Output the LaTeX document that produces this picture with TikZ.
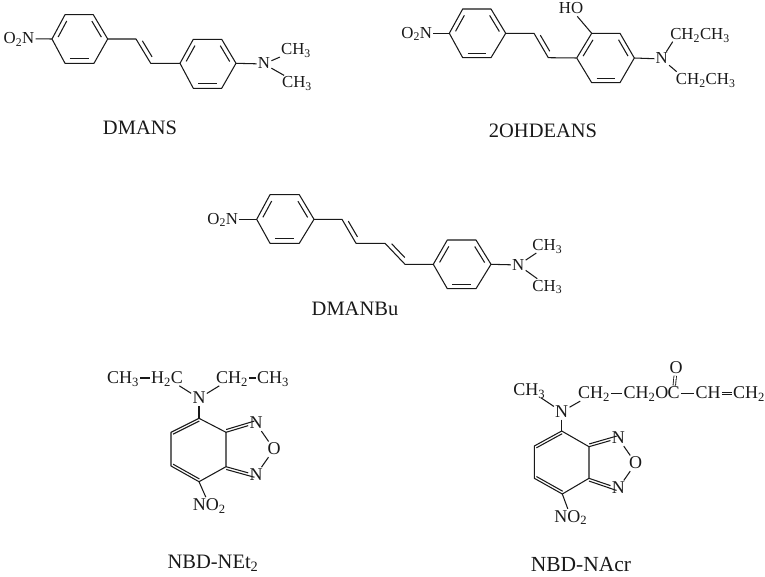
\documentclass[tikz,border=0pt]{standalone}
\usepackage{fontspec}
\setmainfont{Liberation Serif}
\usepackage{tikz}
\usetikzlibrary{calc}
\newcommand{\innerbond}[2]{\draw[-] ($(#1)!.17!(#2)!4.5pt!90:(#2)$) -- ($(#2)!.17!(#1)!4.5pt!-90:(#1)$);}
\newcommand{\closebond}[2]{\draw[-] ($(#1)!.03!(#2)!2.6pt!90:(#2)$) -- ($(#2)!.03!(#1)!2.6pt!-90:(#1)$);}
\newcommand{\subs}[1]{\textsubscript{#1}}
\begin{document}
\begin{tikzpicture}[x=1pt,y=-1pt,line width=1.05pt,color=black!90,
    atom/.style={inner sep=.8pt, text height=11pt, text depth=1pt, font=\fontsize{16.8}{18}\selectfont},
    natom/.style={inner sep=.8pt, text height=12pt, text depth=1pt, font=\fontsize{18}{20}\selectfont},
    molname/.style={inner sep=0pt, font=\fontsize{20.5}{22}\selectfont},
    dbond/.style={double,double distance=1.6pt,line width=.85pt}]
        \useasboundingbox (0,0) rectangle (765,577);

        \coordinate (A1) at (52,39);
        \coordinate (A2) at (65,14.7);
        \coordinate (A3) at (93.3,14.7);
        \coordinate (A4) at (107.7,39);
        \coordinate (A5) at (94,63.3);
        \coordinate (A6) at (65,63.3);
        \coordinate (V1) at (136,39);
        \coordinate (V2) at (150.7,63.3);
        \coordinate (B1) at (180,63.3);
        \coordinate (B2) at (193.3,39.3);
        \coordinate (B3) at (221.7,39.3);
        \coordinate (B4) at (236,63.3);
        \coordinate (B5) at (221.7,88.3);
        \coordinate (B6) at (193.3,88.3);
        \node[atom] (NO1) at (19,38.7) {O\subs{2}N};
        \node[atom] (N1) at (264,64) {N};
        \node[atom] (Me1) at (296,50) {CH\subs{3}};
        \node[atom] (Me2) at (297,82.7) {CH\subs{3}};
        \node[molname] (L1) at (140,128) {DMANS};

        \draw[-,line join=round] (A1) -- (A2) -- (A3) -- (A4) -- (A5) -- (A6) -- cycle;
        \draw[-,line join=round] (B1) -- (B2) -- (B3) -- (B4) -- (B5) -- (B6) -- cycle;
        \draw[-,line join=round] (A4) -- (V1) -- (V2) -- (B1);
        \innerbond{A2}{A1}
        \innerbond{A4}{A3}
        \innerbond{A6}{A5}
        \innerbond{V1}{V2}
        \innerbond{B2}{B1}
        \innerbond{B4}{B3}
        \innerbond{B6}{B5}
        \draw[-] (NO1) edge[] (A1);
        \draw[-] (N1) edge[] (B4);
        \draw[-] (N1) edge[] (Me1);
        \draw[-] (N1) edge[] (Me2);

        \coordinate (C1) at (449.3,33.3);
        \coordinate (C2) at (462.7,9);
        \coordinate (C3) at (491,9);
        \coordinate (C4) at (505.7,33.3);
        \coordinate (C5) at (491,57.7);
        \coordinate (C6) at (462.7,57.7);
        \coordinate (V3) at (534,33.3);
        \coordinate (V4) at (548.3,57.7);
        \coordinate (D1) at (576.7,58);
        \coordinate (D2) at (591.7,33.3);
        \coordinate (D3) at (620,33.3);
        \coordinate (D4) at (634.3,58);
        \coordinate (D5) at (620,82.7);
        \coordinate (D6) at (591.7,82.7);
        \coordinate (Et1) at (672.7,41.7);
        \coordinate (Et2) at (676.7,71.7);
        \node[atom] (NO2) at (416.7,33.3) {O\subs{2}N};
        \node[atom] (OH) at (571,9) {HO};
        \node[atom] (N2) at (661.7,59) {N};
        \node[atom] (Et3) at (700,35) {CH\subs{2}CH\subs{3}};
        \node[atom] (Et4) at (705.7,80) {CH\subs{2}CH\subs{3}};
        \node[molname] (L2) at (543,131) {2OHDEANS};

        \draw[-,line join=round] (C1) -- (C2) -- (C3) -- (C4) -- (C5) -- (C6) -- cycle;
        \draw[-,line join=round] (D1) -- (D2) -- (D3) -- (D4) -- (D5) -- (D6) -- cycle;
        \draw[-,line join=round] (C4) -- (V3) -- (V4) -- (D1);
        \innerbond{C2}{C1}
        \innerbond{C4}{C3}
        \innerbond{C6}{C5}
        \innerbond{V3}{V4}
        \innerbond{D2}{D1}
        \innerbond{D4}{D3}
        \innerbond{D6}{D5}
        \draw[-] (NO2) edge[] (C1);
        \draw[-] (OH) edge[] (D2);
        \draw[-] (N2) edge[] (D4);
        \draw[-] (N2) edge[] (Et1);
        \draw[-] (N2) edge[] (Et2);

        \coordinate (E1) at (256.7,219.3);
        \coordinate (E2) at (270,194.7);
        \coordinate (E3) at (299.3,194.7);
        \coordinate (E4) at (314,219.3);
        \coordinate (E5) at (299.3,243.3);
        \coordinate (E6) at (270,243.3);
        \coordinate (V5) at (342,219.3);
        \coordinate (V6) at (356,243.3);
        \coordinate (V7) at (385,243.3);
        \coordinate (V8) at (405,264.3);
        \coordinate (F1) at (433.3,264.3);
        \coordinate (F2) at (447.3,240);
        \coordinate (F3) at (476,240);
        \coordinate (F4) at (491,264.3);
        \coordinate (F5) at (476,288.7);
        \coordinate (F6) at (447.3,288.7);
        \node[atom] (NO3) at (222.7,219.3) {O\subs{2}N};
        \node[atom] (N3) at (518.3,265) {N};
        \node[atom] (Me3) at (547.3,245.7) {CH\subs{3}};
        \node[atom] (Me4) at (547.3,286) {CH\subs{3}};
        \node[molname] (L3) at (355,309) {DMANBu};

        \draw[-,line join=round] (E1) -- (E2) -- (E3) -- (E4) -- (E5) -- (E6) -- cycle;
        \draw[-,line join=round] (F1) -- (F2) -- (F3) -- (F4) -- (F5) -- (F6) -- cycle;
        \draw[-,line join=round] (E4) -- (V5) -- (V6) -- (V7) -- (V8) -- (F1);
        \innerbond{E2}{E1}
        \innerbond{E4}{E3}
        \innerbond{E6}{E5}
        \innerbond{V5}{V6}
        \innerbond{V7}{V8}
        \innerbond{F2}{F1}
        \innerbond{F4}{F3}
        \innerbond{F6}{F5}
        \draw[-] (NO3) edge[] (E1);
        \draw[-] (N3) edge[] (F4);
        \draw[-] (N3) edge[] (Me3);
        \draw[-] (N3) edge[] (Me4);

        \coordinate (G1) at (199,418.3);
        \coordinate (G2) at (226,432.3);
        \coordinate (G3) at (226,466.7);
        \coordinate (G4) at (199,481.7);
        \coordinate (G5) at (171,466);
        \coordinate (G6) at (171,432.3);
        \node[natom] (N4) at (199,398.3) {N};
        \node[natom] (Me5) at (123,378) {CH\subs{3}};
        \node[natom] (Et5) at (167,378) {H\subs{2}C};
        \node[natom] (Et6) at (232,378) {CH\subs{2}};
        \node[natom] (Me6) at (273,378) {CH\subs{3}};
        \node[natom] (N5) at (256,423.3) {N};
        \node[natom] (O1) at (274,449.3) {O};
        \node[natom] (N6) at (256,475) {N};
        \node[natom] (NO4) at (209.3,505) {NO\subs{2}};
        \node[molname] (L4) at (213,563) {NBD-NEt\subs{2}};

        \draw[-,line join=round] (G1) -- (G2) -- (G3) -- (G4) -- (G5) -- (G6) -- cycle;
        \closebond{G1}{G6}
        \closebond{G5}{G4}
        \closebond{G2}{N5}
        \closebond{N6}{G3}
        \draw[-] (G2) -- (N5);
        \draw[-] (G3) -- (N6);
        \draw[-] (N4) edge[] (G1);
        \draw[-] (N4) edge[] (Et5);
        \draw[-] (N4) edge[] (Et6);
        \draw[-] (Me5) edge[] (Et5);
        \draw[-] (Et6) edge[] (Me6);
        \draw[-] (N5) edge[] (O1);
        \draw[-] (O1) edge[] (N6);
        \draw[-] (G4) -- (NO4);

        \coordinate (H1) at (561.7,431);
        \coordinate (H2) at (589,446.7);
        \coordinate (H3) at (589,478.3);
        \coordinate (H4) at (562.3,494);
        \coordinate (H5) at (534.3,478.3);
        \coordinate (H6) at (534.3,446);
        \node[natom] (N7) at (561.7,411.7) {N};
        \node[natom] (Me7) at (529.3,390) {CH\subs{3}};
        \node[natom] (Ac1) at (594,393.3) {CH\subs{2}};
        \node[natom] (Ac2) at (646,393.3) {CH\subs{2}O};
        \node[natom] (Ac3) at (673.5,393.3) {C};
        \node[natom] (Ac4) at (676,368) {O};
        \node[natom] (Ac5) at (708,393.3) {CH};
        \node[natom] (Ac6) at (749,393.3) {CH\subs{2}};
        \node[natom] (N8) at (618.3,438.3) {N};
        \node[natom] (O2) at (635.7,463.3) {O};
        \node[natom] (N9) at (618.3,488.3) {N};
        \node[natom] (NO5) at (570.7,516.7) {NO\subs{2}};
        \node[molname,font=\fontsize{21.5}{22}\selectfont] (L5) at (581,565) {NBD-NAcr};

        \draw[-,line join=round] (H1) -- (H2) -- (H3) -- (H4) -- (H5) -- (H6) -- cycle;
        \closebond{H1}{H6}
        \closebond{H5}{H4}
        \closebond{H2}{N8}
        \closebond{N9}{H3}
        \draw[-] (H2) -- (N8);
        \draw[-] (H3) -- (N9);
        \draw[-] (N7) edge[] (H1);
        \draw[-] (N7) edge[] (Me7);
        \draw[-] (N7) edge[] (Ac1);
        \draw[-] (Ac1) edge[] (Ac2);
        \draw[-] (Ac3) edge[] (Ac5);
        \draw[dbond] (Ac3) -- (Ac4);
        \draw[dbond] (Ac5) -- (Ac6);
        \draw[-] (N8) edge[] (O2);
        \draw[-] (O2) edge[] (N9);
        \draw[-] (H4) -- (NO5);
\end{tikzpicture}
\end{document}
